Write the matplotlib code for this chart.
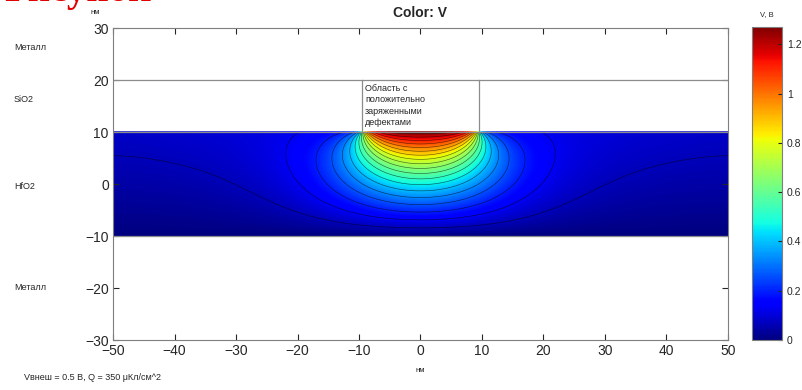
import numpy as np
import matplotlib.pyplot as plt

plt.rcParams['font.family'] = ['Liberation Sans', 'DejaVu Sans']

# potential along the HfO2 top interface (y = 10 nm), symmetric in x
x_top = [0, 2, 4, 6, 7, 8, 9, 9.5, 10, 11, 12.5, 15, 18, 22, 28, 35, 50]
v_top = [1.27, 1.27, 1.26, 1.22, 1.17, 1.08, 0.9, 0.58, 0.34, 0.24, 0.19,
         0.158, 0.137, 0.12, 0.104, 0.092, 0.078]
v_bottom = 0.0          # metal at y = -10 nm

# layer boundaries, nm
y_hfo2 = [-10, 10]
y_sio2 = 20
x_defect = [-9.5, 9.5]

layer_names = ['Металл', 'SiO2', 'HfO2', 'Металл']
layer_label_y = [48, 99, 186, 287]      # pixel rows of the side labels
x_ticks = np.arange(-50, 51, 10)
y_ticks = np.arange(-30, 31, 10)
cbar_ticks = [0, 0.2, 0.4, 0.6, 0.8, 1.0, 1.2]
cbar_labels = ['0', '0.2', '0.4', '0.6', '0.8', '1', '1.2']
v_max = 1.27
levels = np.arange(0.065, 1.26, 0.065)

### Laplace solution in the HfO2 slab (cos series, Neumann sides) ###
L = 50.
H = y_hfo2[1] - y_hfo2[0]
xf = np.linspace(-L, L, 4001)
ftop = np.interp(np.abs(xf), x_top, v_top)
x = np.linspace(-L, L, 501)
y = np.linspace(y_hfo2[0], y_hfo2[1], 161)
d = y_hfo2[1] - y
V = np.mean(ftop) * (1 - d / H)[:, None] * np.ones_like(x)[None, :]
for n in range(1, 400):
    k = n * np.pi / L
    cn = 2 * np.mean(ftop * np.cos(k * xf))
    dep = np.exp(-k * d) * (1 - np.exp(-2 * k * (H - d))) / (1 - np.exp(-2 * k * H))
    V += cn * dep[:, None] * np.cos(k * x)[None, :]
V += v_bottom * (d / H)[:, None]

### Plot ###
fig = plt.figure(figsize=(8.03, 3.90), dpi=100)
ax = fig.add_axes([113/803, 50/390, 615/803, 312/390])
gray = '#262626'
mesh = ax.pcolormesh(x, y, V, cmap='jet', vmin=0, vmax=v_max, shading='gouraud')
ax.contour(x, y, V, levels=levels, colors='k', linewidths=0.45, alpha=0.6)

edge = '#8c8c8c'
ax.plot([-L, L], [y_sio2, y_sio2], color=edge, lw=0.9)
ax.plot([-L, L], [y_hfo2[1], y_hfo2[1]], color=edge, lw=0.9)
ax.plot([-L, L], [y_hfo2[0], y_hfo2[0]], color=edge, lw=0.9)
for xv in x_defect:
    ax.plot([xv, xv], [y_hfo2[1], y_sio2], color=edge, lw=0.9)
ax.text(-9.0, 19.3, 'Область с\nположительно\nзаряженными\nдефектами',
        fontsize=6.5, color=gray, va='top', ha='left', linespacing=1.35)

ax.set_xlim(-50, 50)
ax.set_ylim(-30, 30)
ax.set_xticks(x_ticks)
ax.set_yticks(y_ticks)
ax.tick_params(direction='in', top=True, right=True, length=4, labelsize=10,
               colors=gray, pad=3)
for s in ax.spines.values():
    s.set_color('#7f7f7f')
ax.set_title('Color: V', fontsize=10, fontweight='bold', color=gray, pad=8)

cax = fig.add_axes([752/803, 50/390, 30/803, 313/390])
cb = fig.colorbar(mesh, cax=cax, ticks=cbar_ticks)
cb.ax.set_yticklabels(cbar_labels)
cb.ax.tick_params(labelsize=7.5, colors=gray, length=3, direction='in')
cb.outline.set_edgecolor('#7f7f7f')

fig.text(767/803, 1 - 15/390, 'V, В', fontsize=5.5, color=gray, ha='center', va='center')
fig.text(95/803, 1 - 13/390, 'нм', fontsize=5.5, color=gray, ha='center', va='center')
fig.text(420/803, 1 - 371/390, 'нм', fontsize=5.5, color=gray, ha='center', va='center')
for name, py in zip(layer_names, layer_label_y):
    fig.text(14/803, 1 - py/390, name, fontsize=6.5, color=gray, ha='left', va='center')
fig.text(24/803, 1 - 378/390, 'Vвнеш = 0.5 В, Q = 350 μКл/см^2', fontsize=6.5,
         color=gray, ha='left', va='center')
fig.text(4/803, 1 - 1/390, 'Рисунок', fontsize=28, color='#e00000', fontweight='bold',
         family='Liberation Serif', ha='left', va='baseline')

fig.savefig('out.png', dpi=100)
